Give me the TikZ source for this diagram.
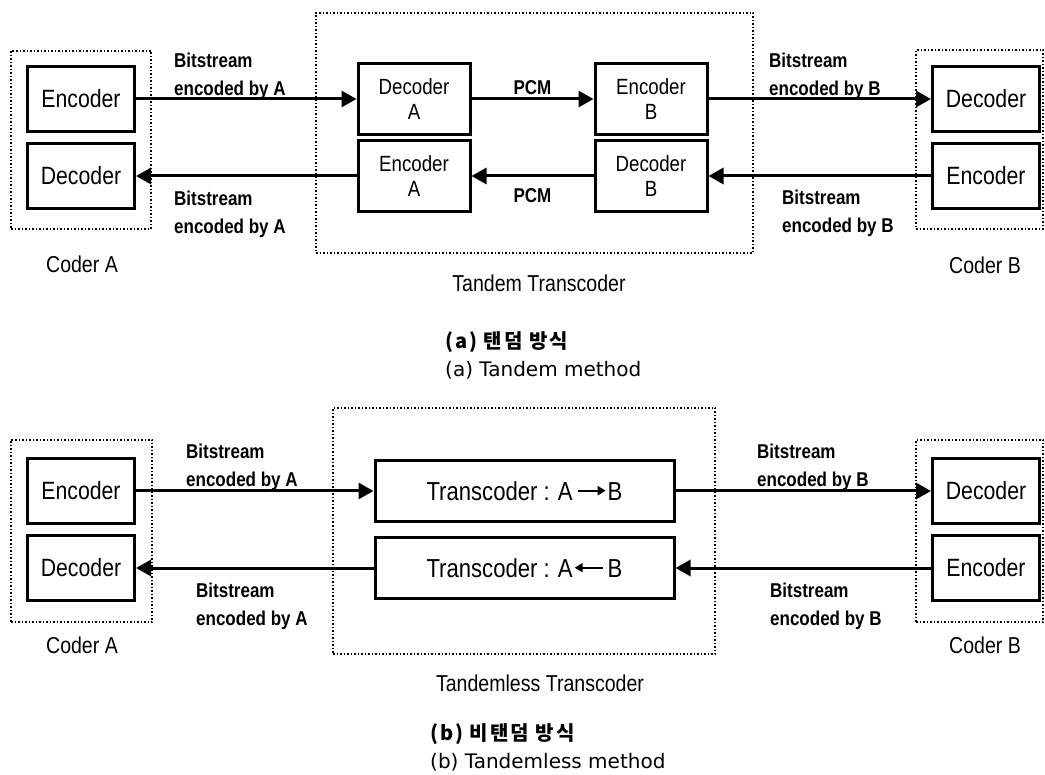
\documentclass[tikz,border=0pt]{standalone}
\usepackage{fontspec}
\setmainfont[FakeStretch=0.85]{Liberation Sans}
\newfontfamily\capfont{DejaVu Sans}
\newfontfamily\cjk[LetterSpace=10]{Noto Sans CJK KR}
\usetikzlibrary{arrows.meta}
\usetikzlibrary{positioning}
\tikzstyle{unit}=[draw,line width=3pt,inner sep=0pt,align=center,minimum width=107pt,minimum height=65pt,font=\fontsize{25}{27}\selectfont]
\tikzstyle{stage}=[unit,minimum width=112pt,minimum height=71pt,font=\fontsize{22}{25}\selectfont]
\tikzstyle{trans}=[unit,minimum width=299pt,minimum height=61pt,font=\fontsize{26}{28}\selectfont]
\tikzstyle{group}=[draw,line width=1.5pt,dash pattern=on 1.5pt off 2pt,inner sep=0pt]
\tikzstyle{flow}=[draw,line width=3pt,-{Triangle[length=15pt,width=16pt]}]
\tikzstyle{bits}=[align=left,inner sep=0pt,anchor=west,font=\fontsize{20}{28}\selectfont\bfseries]
\tikzstyle{pcm}=[inner sep=0pt,font=\fontsize{20}{22}\selectfont\bfseries]
\tikzstyle{grouplabel}=[inner sep=0pt,font=\fontsize{23}{25}\selectfont]
\tikzstyle{figcap}=[align=left,inner sep=0pt,anchor=west,font=\fontsize{20}{28}\capfont]
\newcommand{\rarr}{\tikz[baseline=-0.7ex]\draw[line width=2pt,-{Triangle[length=8pt,width=9pt]}] (0pt,0pt) -- (28pt,0pt);}
\newcommand{\larr}{\tikz[baseline=-0.7ex]\draw[line width=2pt,-{Triangle[length=8pt,width=9pt]}] (28pt,0pt) -- (0pt,0pt);}

\begin{document}
\begin{tikzpicture}[x=1pt,y=-1pt]
\useasboundingbox (0,0) rectangle (1045,775);
\begin{scope}
	\node[group,minimum width=140pt,minimum height=178pt] (gca) at (81,140) {};
	\node[group,minimum width=437pt,minimum height=240pt] (gtt) at (534.5,133) {};
	\node[group,minimum width=127pt,minimum height=179pt] (gcb) at (979.5,139.5) {};

	\node[unit] (enca) at (81,99) {Encoder};
	\node[unit] (deca) at (81,176) {Decoder};
	\node[stage] (tdeca) at (414,99) {Decoder\\A};
	\node[stage] (tenca) at (414,176) {Encoder\\A};
	\node[stage] (tencb) at (651,99) {Encoder\\B};
	\node[stage] (tdecb) at (651,176) {Decoder\\B};
	\node[unit] (decb) at (986,99) {Decoder};
	\node[unit] (encb) at (986,176) {Encoder};

	\node[bits] (bat) at (174,76) {Bitstream\\encoded by A};
	\node[bits] (bab) at (174,214) {Bitstream\\encoded by A};
	\node[bits] (bbt) at (769,76) {Bitstream\\encoded by B};
	\node[bits] (bbb) at (782,213) {Bitstream\\encoded by B};

	\path[flow] (enca) -- (tdeca);
	\path[flow] (tdeca) edge node[pcm,above=3pt] {PCM} (tencb);
	\path[flow] (tencb) -- (decb);

	\path[flow] (encb) -- (tdecb);
	\path[flow] (tdecb) edge node[pcm,below=11pt] {PCM} (tenca);
	\path[flow] (tenca) -- (deca);

	\node[grouplabel] (lca) at (82,264) {Coder A};
	\node[grouplabel] (lcb) at (985,265) {Coder B};
	\node[grouplabel] (ltt) at (539,283) {Tandem Transcoder};
	\node[figcap] (capa) at (445,355) {{\cjk\bfseries (a) 탠덤 방식}\\(a) Tandem method};
\end{scope}
\begin{scope}
	\node[group,minimum width=141pt,minimum height=182pt] (gca2) at (81.5,531) {};
	\node[group,minimum width=382pt,minimum height=246pt] (gtl) at (524,531) {};
	\node[group,minimum width=127pt,minimum height=182pt] (gcb2) at (979.5,531) {};

	\node[unit] (enca2) at (81,491) {Encoder};
	\node[unit] (deca2) at (81,568) {Decoder};
	\node[trans] (tab) at (524.5,491) {Transcoder : A\hspace{4pt}\rarr\hspace{1pt}B};
	\node[trans] (tba) at (524.5,568) {Transcoder : A\hspace{1pt}\larr\hspace{4pt}B};
	\node[unit] (decb2) at (986,491) {Decoder};
	\node[unit] (encb2) at (986,568) {Encoder};

	\node[bits] (bat2) at (186,467) {Bitstream\\encoded by A};
	\node[bits] (bab2) at (196,606) {Bitstream\\encoded by A};
	\node[bits] (bbt2) at (757,467) {Bitstream\\encoded by B};
	\node[bits] (bbb2) at (770,606) {Bitstream\\encoded by B};

	\path[flow] (enca2) -- (tab);
	\path[flow] (tab) -- (decb2);
	\path[flow] (encb2) -- (tba);
	\path[flow] (tba) -- (deca2);

	\node[grouplabel] (lca2) at (82,645) {Coder A};
	\node[grouplabel] (lcb2) at (985,645) {Coder B};
	\node[grouplabel] (ltl) at (540,683) {Tandemless Transcoder};
	\node[figcap] (capb) at (430,747) {{\cjk\bfseries (b) 비탠덤 방식}\\(b) Tandemless method};
\end{scope}
\end{tikzpicture}
\end{document}
